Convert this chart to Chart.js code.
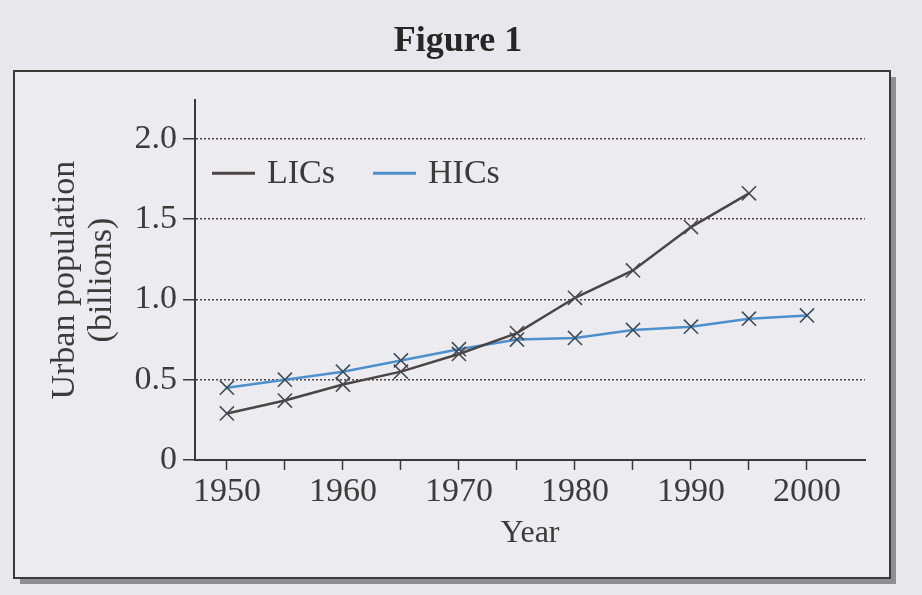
<!DOCTYPE html>
<html>
<head>
    <title>Figure 1</title>
    <script src="https://cdn.jsdelivr.net/npm/chart.js@4.4.1/dist/chart.umd.min.js"></script>
    <style>
        body { margin: 0; background: #e8e8ec; }
    </style>
</head>
<body>
    <canvas id="urban-chart" width="922" height="595"></canvas>

    <script>
        // values (billions)
        var years = [1950, 1955, 1960, 1965, 1970, 1975, 1980, 1985, 1990, 1995, 2000];
        var licValues = [0.29, 0.37, 0.47, 0.55, 0.66, 0.79, 1.01, 1.18, 1.45, 1.66];
        var hicValues = [0.45, 0.50, 0.55, 0.62, 0.69, 0.75, 0.76, 0.81, 0.83, 0.88, 0.90];
        var seriesNames = ['LICs', 'HICs'];
        var xTicks = [1950, 1955, 1960, 1965, 1970, 1975, 1980, 1985, 1990, 1995, 2000];
        var xTickLabels = ['1950', '', '1960', '', '1970', '', '1980', '', '1990', '', '2000'];
        var yTicks = [0, 0.5, 1.0, 1.5, 2.0];
        var yTickLabels = ['0', '0.5', '1.0', '1.5', '2.0'];

        var serif = '"Liberation Serif", "Times New Roman", serif';
        var textColor = '#3b3b3b';

        function toPoints(values) {
            return values.map(function(v, i) { return {x: years[i], y: v}; });
        }

        // page background and the boxed frame with its shadow
        var framePlugin = {
            id: 'frame',
            beforeDraw: function(chart) {
                var c = chart.ctx;
                c.save();
                c.fillStyle = '#e8e8ec';
                c.fillRect(0, 0, chart.width, chart.height);
                c.fillStyle = '#8e8e94';
                c.fillRect(20, 77, 876, 507);
                c.fillStyle = '#ececf0';
                c.fillRect(14, 71, 876, 507);
                c.strokeStyle = '#3a3a3a';
                c.lineWidth = 2;
                c.strokeRect(14, 71, 876, 507);
                c.restore();
            }
        };

        // legend sits inside the plot, so it is drawn here from the datasets
        var insideLegend = {
            id: 'insideLegend',
            afterDatasetsDraw: function(chart) {
                var c = chart.ctx;
                var area = chart.chartArea;
                var x = area.left + 17;
                var y = area.top + 73;
                c.save();
                c.font = '34px ' + serif;
                c.textBaseline = 'middle';
                chart.data.datasets.forEach(function(ds) {
                    c.strokeStyle = ds.borderColor;
                    c.lineWidth = 3;
                    c.beginPath();
                    c.moveTo(x, y);
                    c.lineTo(x + 43, y);
                    c.stroke();
                    c.fillStyle = textColor;
                    c.fillText(ds.label, x + 55, y + 1);
                    x += 55 + c.measureText(ds.label).width + 38;
                });
                c.restore();
            }
        };

        var ctx = document.getElementById('urban-chart').getContext('2d');
        var urbanChart = new Chart(ctx, {
            type: 'line',
            data: {
                datasets: [{
                    label: seriesNames[0],
                    data: toPoints(licValues),
                    borderColor: '#4b4545',
                    borderWidth: 2.5,
                    pointStyle: 'crossRot',
                    pointRadius: 10,
                    pointBorderWidth: 1.6,
                    pointBorderColor: '#4a4a50',
                    tension: 0,
                    fill: false
                }, {
                    label: seriesNames[1],
                    data: toPoints(hicValues),
                    borderColor: '#4d90cc',
                    borderWidth: 2.5,
                    pointStyle: 'crossRot',
                    pointRadius: 10,
                    pointBorderWidth: 1.6,
                    pointBorderColor: '#3c4d5c',
                    tension: 0,
                    fill: false
                }]
            },
            options: {
                responsive: false,
                animation: false,
                layout: {
                    padding: {left: 51, right: 57, top: 10, bottom: 35}
                },
                scales: {
                    x: {
                        type: 'linear',
                        min: 1947.25,
                        max: 2005,
                        afterBuildTicks: function(scale) {
                            scale.ticks = xTicks.map(function(v) { return {value: v}; });
                        },
                        afterFit: function(scale) {
                            scale.height = 100;
                        },
                        ticks: {
                            autoSkip: false,
                            maxRotation: 0,
                            padding: 2,
                            color: textColor,
                            font: {family: serif, size: 34},
                            callback: function(value) {
                                return xTickLabels[xTicks.indexOf(value)];
                            }
                        },
                        grid: {
                            drawOnChartArea: false,
                            drawTicks: true,
                            tickLength: 10,
                            tickColor: '#3a3a3a',
                            tickWidth: 1.5
                        },
                        border: {color: '#3a3a3a', width: 2},
                        title: {
                            display: true,
                            text: 'Year',
                            color: textColor,
                            font: {family: serif, size: 32},
                            padding: {top: 0, bottom: 7}
                        }
                    },
                    y: {
                        min: 0,
                        max: 2.24,
                        afterBuildTicks: function(scale) {
                            scale.ticks = yTicks.map(function(v) { return {value: v}; });
                        },
                        afterFit: function(scale) {
                            scale.width = 144;
                        },
                        ticks: {
                            padding: 6,
                            color: textColor,
                            font: {family: serif, size: 34},
                            callback: function(value) {
                                return yTickLabels[yTicks.indexOf(value)];
                            }
                        },
                        grid: {
                            color: function(c) {
                                return c.tick && c.tick.value === 0 ? 'rgba(0,0,0,0)' : '#4e4444';
                            },
                            lineWidth: 1.5,
                            drawTicks: true,
                            tickLength: 12,
                            tickColor: '#3a3a3a',
                            tickWidth: 1.5,
                            tickBorderDash: []
                        },
                        border: {color: '#3a3a3a', width: 2, dash: [2, 2]},
                        title: {
                            display: true,
                            text: ['Urban population', '(billions)'],
                            color: textColor,
                            font: {family: serif, size: 34, lineHeight: 1.1},
                            padding: {top: -5, bottom: 0}
                        }
                    }
                },
                plugins: {
                    legend: {display: false},
                    tooltip: {enabled: false},
                    title: {
                        display: true,
                        text: 'Figure 1',
                        color: '#262626',
                        font: {family: serif, size: 36, weight: 'bold'},
                        padding: {top: 10, bottom: 37}
                    }
                }
            },
            plugins: [framePlugin, insideLegend]
        });
    </script>
</body>
</html>
